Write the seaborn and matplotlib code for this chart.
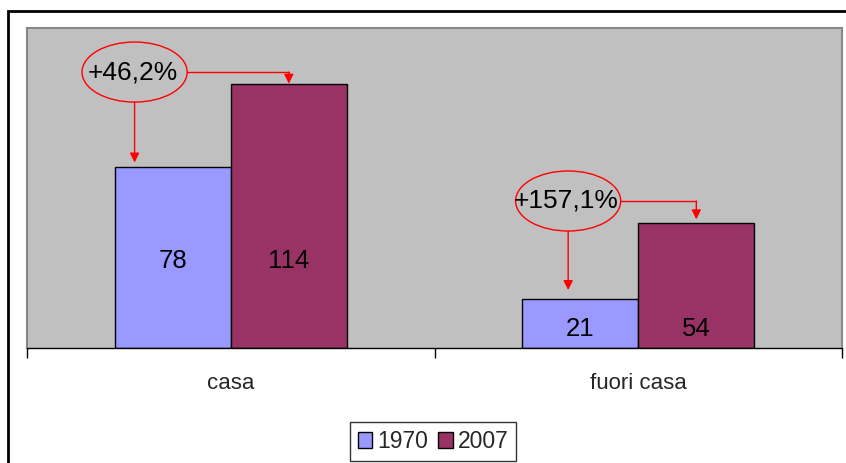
import matplotlib
matplotlib.use("Agg")
import matplotlib.pyplot as plt
from matplotlib.patches import Ellipse, Rectangle, Patch
import seaborn as sns
import pandas as pd

# ---- data ----
categories = ["casa", "fuori casa"]
years = ["1970", "2007"]
values_1970 = [78, 21]
values_2007 = [114, 54]
pct_labels = ["+46,2%", "+157,1%"]

colors = ["#9999FF", "#993366"]

df = pd.DataFrame({
    "categoria": categories * 2,
    "anno": [years[0]] * len(categories) + [years[1]] * len(categories),
    "valore": values_1970 + values_2007,
})

sns.set_theme(style="white")
plt.rcParams["font.family"] = ["Liberation Sans", "DejaVu Sans"]

fig = plt.figure(figsize=(8.46, 4.63), dpi=100)
fig.patch.set_facecolor("white")
W, H = 846, 463
ax = fig.add_axes([27 / W, 115 / H, (842 - 27) / W, (348 - 28) / H])

sns.barplot(data=df, x="categoria", y="valore", hue="anno", palette=colors,
            width=0.57, edgecolor="black", linewidth=1, saturation=1,
            ax=ax, legend=False)

ax.set_facecolor("#C0C0C0")
ax.set_xlim(-0.5, 1.5)
ax.set_ylim(0, 138)
ax.set_xlabel("")
ax.set_ylabel("")
ax.set_yticks([])
for s in ["left", "top", "right"]:
    ax.spines[s].set_color("#888888")
    ax.spines[s].set_linewidth(1.5)
ax.spines["bottom"].set_color("black")
ax.spines["bottom"].set_linewidth(1)
ax.set_xticks([0, 1])
ax.set_xticklabels(categories, fontsize=16)
ax.set_xticks([-0.5, 0.5, 1.5], minor=True)
ax.tick_params(axis="x", which="major", length=0, pad=18)
ax.tick_params(axis="x", which="minor", length=7, width=1, color="black",
               direction="out", bottom=True)

# value labels
label_y = [37.5, 8.2]
for cont in ax.containers:
    for i, bar in enumerate(cont):
        cx = bar.get_x() + bar.get_width() / 2
        ax.text(cx, label_y[i], f"{int(bar.get_height())}", ha="center",
                va="center", fontsize=18.5, color="black")

# annotations (ellipses + arrows)
ell_centers = [(-0.236, 119), (0.828, 63.4)]
ell_w, ell_h = 0.258, 25.9
left_tip_off = [2, 4]
right_tip_off = [0, 1.5]
bars70 = list(ax.containers[0])
bars07 = list(ax.containers[1])
arrow_kw = dict(arrowstyle="-|>", color="red", lw=1, mutation_scale=14,
                shrinkA=0, shrinkB=0)
for i, (cx, cy) in enumerate(ell_centers):
    ax.add_patch(Ellipse((cx, cy), ell_w, ell_h, fill=False,
                         edgecolor="red", lw=1, zorder=5))
    ax.text(cx - 0.005, cy, pct_labels[i], ha="center", va="center",
            fontsize=19, color="black", zorder=6)
    # right arrow to 2007 bar
    b = bars07[i]
    bx = b.get_x() + b.get_width() / 2
    ax.plot([cx + ell_w / 2, bx], [cy, cy], color="red", lw=1, zorder=5)
    ax.annotate("", xy=(bx, b.get_height() + right_tip_off[i]), xytext=(bx, cy),
                arrowprops=arrow_kw, zorder=5)
    # down arrow to 1970 bar
    b0 = bars70[i]
    ax.annotate("", xy=(cx, b0.get_height() + left_tip_off[i]),
                xytext=(cx, cy - ell_h / 2), arrowprops=arrow_kw, zorder=5)

# outer chart border
fig.patches.append(Rectangle((8 / W, -0.1), 1.2, 1.1 - 11 / H,
                             transform=fig.transFigure, fill=False,
                             edgecolor="black", lw=2, zorder=0))

# legend
handles = [Patch(facecolor=c, edgecolor="black", lw=1) for c in colors]
leg = fig.legend(handles, years, loc="upper left",
                 bbox_to_anchor=(350 / W, 1 - 422 / H), ncol=2, fontsize=16.5,
                 frameon=True, fancybox=False, borderaxespad=0,
                 handlelength=0.62, handleheight=0.7, handletextpad=0.22,
                 columnspacing=0.45, borderpad=0.35)
leg.get_frame().set_edgecolor("black")
leg.get_frame().set_linewidth(1)
leg.get_frame().set_facecolor("white")

fig.savefig("out.png", dpi=100)
